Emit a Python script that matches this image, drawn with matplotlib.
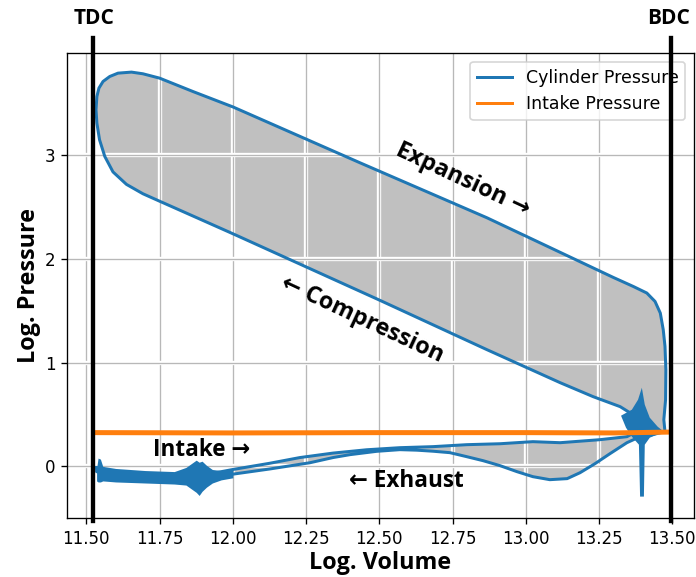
import matplotlib
matplotlib.use('Agg')
import matplotlib.pyplot as plt
import matplotlib.patheffects as pe

BLUE = '#1f77b4'
ORANGE = '#ff7f0e'

# ---- Cylinder pressure cycle (log V, log P), in cycle order ----
intake_v = [11.535, 11.614, 11.750, 11.887, 12.000, 12.126, 12.229, 12.342, 12.457, 12.570,
            12.683, 12.799, 12.912, 13.024, 13.117, 13.253, 13.345, 13.390]
intake_p = [-0.013, -0.061, -0.080, -0.090, -0.030, 0.030, 0.085, 0.128, 0.160, 0.180,
            0.190, 0.209, 0.218, 0.238, 0.228, 0.257, 0.286, 0.353]

comp_v = [13.380, 13.355, 13.322, 13.230, 13.117, 12.867, 12.498, 12.000, 11.739, 11.693,
          11.637, 11.591, 11.563, 11.545, 11.536, 11.533]
comp_p = [0.449, 0.517, 0.575, 0.671, 0.806, 1.124, 1.604, 2.240, 2.567, 2.625,
          2.715, 2.835, 2.984, 3.145, 3.305, 3.433]

exp_v = [11.536, 11.543, 11.557, 11.580, 11.608, 11.654, 11.693, 11.750, 11.864, 12.001,
         12.434, 12.867, 13.298, 13.367, 13.413, 13.441, 13.459, 13.469, 13.475, 13.478,
         13.477, 13.471, 13.475]
exp_p = [3.561, 3.642, 3.706, 3.754, 3.786, 3.796, 3.780, 3.738, 3.609, 3.460,
         2.923, 2.394, 1.820, 1.732, 1.669, 1.588, 1.476, 1.316, 1.155, 0.931,
         0.642, 0.449, 0.334]

exh_v = [13.424, 13.390, 13.345, 13.287, 13.236, 13.185, 13.141, 13.082, 13.024, 12.970,
         12.912, 12.854, 12.799, 12.741, 12.683, 12.628, 12.570, 12.491, 12.400, 12.342,
         12.263, 12.126, 12.000, 11.887, 11.750, 11.614, 11.535]
exh_p = [0.300, 0.286, 0.228, 0.122, 0.026, -0.061, -0.118, -0.128, -0.099, -0.051,
         0.007, 0.055, 0.093, 0.132, 0.146, 0.156, 0.161, 0.145, 0.113, 0.085,
         0.035, -0.025, -0.075, -0.105, -0.105, -0.090, -0.051]

# noisy band near TDC at low pressure (upper / lower envelope)
band_v = [11.535, 11.540, 11.548, 11.556, 11.60, 11.70, 11.80, 11.84, 11.86, 11.875,
          11.885, 11.895, 11.91, 11.93, 11.96, 12.0]
band_hi = [-0.02, 0.08, 0.07, 0.00, -0.02, -0.04, -0.05, -0.01, 0.03, 0.06,
           0.04, 0.05, 0.01, -0.03, -0.04, -0.03]
band_lo = [-0.14, -0.15, -0.15, -0.14, -0.15, -0.16, -0.17, -0.18, -0.22, -0.25,
           -0.28, -0.24, -0.20, -0.16, -0.13, -0.11]

# noisy burst at intake valve closing (outline)
burst_v = [13.396, 13.406, 13.423, 13.450, 13.471, 13.423, 13.406, 13.403, 13.390, 13.386,
           13.362, 13.342, 13.325, 13.362, 13.383]
burst_p = [0.757, 0.594, 0.469, 0.382, 0.334, 0.276, 0.209, -0.291, -0.291, 0.209,
           0.286, 0.372, 0.488, 0.546, 0.642]

# ---- Intake pressure ----
inlet_v = [11.535, 12.0, 12.5, 13.0, 13.3, 13.49]
inlet_p = [0.325, 0.322, 0.325, 0.325, 0.322, 0.330]

# ---- Dead centres ----
tdc_v = 11.523
bdc_v = 13.494

cyc_v = intake_v + comp_v + exp_v + exh_v
cyc_p = intake_p + comp_p + exp_p + exh_p

fig = plt.figure(figsize=(5.8, 577 / 120), dpi=120)
ax = fig.add_axes([67 / 696, 59 / 577, (694 - 67) / 696, (518 - 53) / 577])

LABEL_FONT = ['Open Sans', 'DejaVu Sans']

ax.fill(cyc_v, cyc_p, color='silver', lw=0, zorder=1)
ax.set_axisbelow('line')
ax.grid(True, color='#b8b8b8', lw=0.8,
        path_effects=[pe.withStroke(linewidth=2.6, foreground='white')])

cyl, = ax.plot(cyc_v + cyc_v[:1], cyc_p + cyc_p[:1], color=BLUE, lw=1.8,
               label='Cylinder Pressure', zorder=2, solid_joinstyle='round')
ax.fill_between(band_v, band_lo, band_hi, color=BLUE, lw=0, zorder=2)
ax.fill(burst_v, burst_p, color=BLUE, lw=0, zorder=2)
inl, = ax.plot(inlet_v, inlet_p, color=ORANGE, lw=3.0, label='Intake Pressure', zorder=3)

ax.set_xlim(11.434, 13.574)
ax.set_ylim(-0.497, 3.98)
ax.set_xticks([11.50, 11.75, 12.00, 12.25, 12.50, 12.75, 13.00, 13.25, 13.50])
ax.set_xticklabels(['11.50', '11.75', '12.00', '12.25', '12.50', '12.75', '13.00', '13.25', '13.50'])
ax.set_yticks([0, 1, 2, 3])
ax.tick_params(labelsize=10)

ax.set_xlabel('Log. Volume', fontsize=14, fontweight='bold', family=LABEL_FONT, labelpad=2)
ax.set_ylabel('Log. Pressure', fontsize=14, fontweight='bold', family=LABEL_FONT, labelpad=2)

leg = ax.legend(handles=[cyl, inl], loc='upper right', fontsize=10.4)
leg.set_zorder(5)
for ln in leg.get_lines():
    ln.set_linewidth(1.8)

top = (518 - 38) / (518 - 53)
for v in (tdc_v, bdc_v):
    ax.axvline(v, ymin=-0.006, ymax=top, color='black', lw=2.6, clip_on=False, zorder=6)

fig.text(94 / 696, 1 - 18 / 577, 'TDC', ha='center', va='center', fontsize=12.5,
         fontweight='bold', family=LABEL_FONT)
fig.text(669 / 696, 1 - 18 / 577, 'BDC', ha='center', va='center', fontsize=12.5,
         fontweight='bold', family=LABEL_FONT)

ax.text(12.786, 2.758, 'Expansion \u2192', rotation=-25, rotation_mode='anchor',
        ha='center', va='center', fontsize=14, fontweight='bold', family=LABEL_FONT, zorder=4)
ax.text(12.441, 1.412, '\u2190 Compression', rotation=-25, rotation_mode='anchor',
        ha='center', va='center', fontsize=14, fontweight='bold', family=LABEL_FONT, zorder=4)
ax.text(11.894, 0.161, 'Intake \u2192', ha='center', va='center', fontsize=13.5,
        fontweight='bold', family=LABEL_FONT, zorder=4)
ax.text(12.594, -0.138, '\u2190 Exhaust', ha='center', va='center', fontsize=13.5,
        fontweight='bold', family=LABEL_FONT, zorder=4)

fig.savefig('out.png', dpi=120)
